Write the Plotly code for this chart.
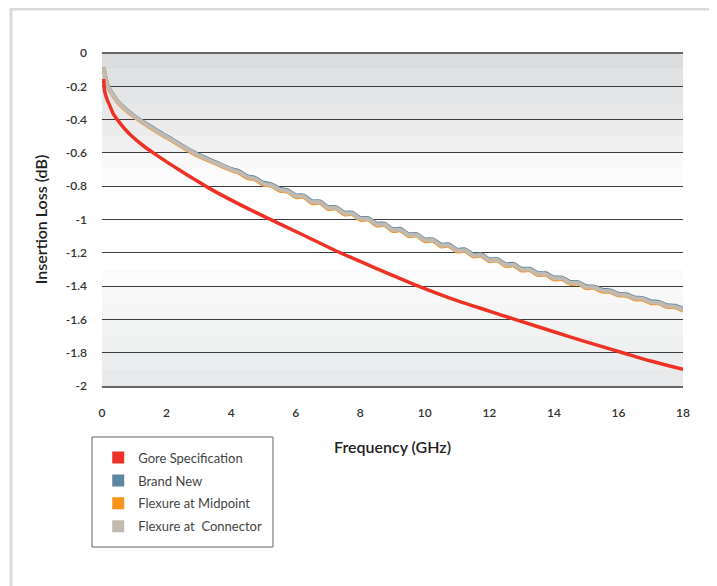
import plotly.graph_objects as go

# ---------------- data ----------------
freq_ghz = [0.05, 0.12, 0.2, 0.35, 0.5, 0.7, 0.95, 1.2, 1.5, 1.9, 2.2, 2.5, 2.8, 3.1, 3.4, 3.7, 4.0,
            4.25, 4.5, 4.75, 5.0, 5.25, 5.5, 5.75, 6.0, 6.25, 6.5, 6.75, 7.0, 7.25, 7.5, 7.75, 8.0,
            8.25, 8.5, 8.75, 9.0, 9.25, 9.5, 9.75, 10.0, 10.25, 10.5, 10.75, 11.0, 11.25, 11.5, 11.75,
            12.0, 12.25, 12.5, 12.75, 13.0, 13.25, 13.5, 13.75, 14.0, 14.25, 14.5, 14.75, 15.0, 15.25,
            15.5, 15.75, 16.0, 16.25, 16.5, 16.75, 17.0, 17.25, 17.5, 17.75, 18.0]

brand_new_db = [-0.084, -0.158, -0.206, -0.252, -0.293, -0.330, -0.371, -0.405, -0.441, -0.489, -0.522,
                -0.558, -0.592, -0.621, -0.646, -0.671, -0.696,
                -0.711, -0.739, -0.751, -0.779, -0.789, -0.815, -0.824, -0.854, -0.856, -0.890,
                -0.891, -0.925, -0.926, -0.958, -0.959, -0.991, -0.992, -1.024, -1.025, -1.057,
                -1.057, -1.088, -1.088, -1.119, -1.119, -1.150, -1.150, -1.181, -1.180, -1.210,
                -1.209, -1.239, -1.238, -1.268, -1.267, -1.295, -1.296, -1.322, -1.323, -1.348,
                -1.349, -1.375, -1.376, -1.401, -1.403, -1.422, -1.426, -1.445, -1.449, -1.468,
                -1.472, -1.491, -1.495, -1.514, -1.518, -1.537]

flex_midpoint_db = [-0.086, -0.162, -0.210, -0.257, -0.298, -0.336, -0.377, -0.411, -0.448, -0.497, -0.530,
                    -0.566, -0.600, -0.629, -0.654, -0.679, -0.704,
                    -0.720, -0.750, -0.760, -0.790, -0.798, -0.826, -0.833, -0.865, -0.865, -0.901,
                    -0.900, -0.936, -0.935, -0.969, -0.968, -1.002, -1.001, -1.035, -1.034, -1.068,
                    -1.066, -1.099, -1.097, -1.130, -1.128, -1.161, -1.159, -1.192, -1.189, -1.221,
                    -1.218, -1.250, -1.247, -1.279, -1.276, -1.306, -1.305, -1.333, -1.332, -1.359,
                    -1.358, -1.386, -1.385, -1.412, -1.412, -1.433, -1.435, -1.456, -1.458, -1.479,
                    -1.481, -1.502, -1.504, -1.525, -1.527, -1.548]

flex_connector_db = [-0.085, -0.160, -0.208, -0.255, -0.296, -0.333, -0.374, -0.408, -0.445, -0.493, -0.526,
                     -0.562, -0.596, -0.625, -0.650, -0.675, -0.700,
                     -0.716, -0.744, -0.756, -0.784, -0.794, -0.820, -0.829, -0.859, -0.861, -0.895,
                     -0.896, -0.930, -0.931, -0.963, -0.964, -0.996, -0.997, -1.029, -1.030, -1.062,
                     -1.062, -1.093, -1.093, -1.124, -1.124, -1.155, -1.155, -1.186, -1.185, -1.215,
                     -1.214, -1.244, -1.243, -1.273, -1.272, -1.300, -1.301, -1.327, -1.328, -1.353,
                     -1.354, -1.380, -1.381, -1.406, -1.408, -1.427, -1.431, -1.450, -1.454, -1.473,
                     -1.477, -1.496, -1.500, -1.519, -1.523, -1.542]

spec_freq_ghz = [0.05, 0.08, 0.15, 0.24, 0.35, 0.5, 0.7, 0.91, 1.3, 1.68, 2.05, 2.4, 2.9, 3.3, 4.2,
                 5.2, 6.2, 7.16, 8.0, 9.0, 9.74, 11.0, 12.0, 12.84, 14.0, 15.0, 16.13, 17.0, 18.0]
gore_spec_db = [-0.156, -0.226, -0.275, -0.316, -0.365, -0.406, -0.455, -0.497, -0.560, -0.612, -0.660,
                -0.703, -0.763, -0.810, -0.903, -0.998, -1.090, -1.180, -1.252, -1.335, -1.395, -1.487,
                -1.550, -1.603, -1.674, -1.735, -1.800, -1.850, -1.900]

series_names = ["Gore Specification", "Brand New", "Flexure at Midpoint", "Flexure at  Connector"]
series_colors = ["#ee3326", "#5b87a2", "#f7941e", "#c2bab1"]

x_tick_vals = [0, 2, 4, 6, 8, 10, 12, 14, 16, 18]
y_tick_vals = [0, -0.2, -0.4, -0.6, -0.8, -1, -1.2, -1.4, -1.6, -1.8, -2]
y_tick_text = ["0", "-0.2", "-0.4", "-0.6", "-0.8", "-1", "-1.2", "-1.4", "-1.6", "-1.8", "-2"]

# background bands (top -> bottom) giving the grey-white-grey gradient
band_edges = [0, -0.1, -0.2, -0.3, -0.4, -0.5, -0.6, -0.7, -0.8, -1.3, -1.4, -1.5, -1.6, -1.7, -1.8, -1.9, -2.0]
band_colors = ["#dcdddf", "#e0e1e3", "#e4e5e6", "#e8e8e9", "#ececed", "#f0f0f1", "#f9f9f9", "#fcfcfc",
               "#ffffff", "#fbfbfb", "#f8f8f8", "#f5f5f6", "#f2f3f3", "#eff0f0", "#ecedee", "#e8e9ea"]

FONT = "Lato, 'Open Sans', sans-serif"

fig = go.Figure()

# measured curves
fig.add_trace(go.Scatter(x=freq_ghz, y=brand_new_db, mode="lines", showlegend=False,
                         line=dict(color=series_colors[1], width=4, shape="spline", smoothing=0.8)))
fig.add_trace(go.Scatter(x=freq_ghz, y=flex_midpoint_db, mode="lines", showlegend=False,
                         line=dict(color=series_colors[2], width=4, shape="spline", smoothing=0.8)))
fig.add_trace(go.Scatter(x=freq_ghz, y=flex_connector_db, mode="lines", showlegend=False,
                         line=dict(color=series_colors[3], width=4, shape="spline", smoothing=0.8)))
# specification
fig.add_trace(go.Scatter(x=spec_freq_ghz, y=gore_spec_db, mode="lines", showlegend=False,
                         line=dict(color=series_colors[0], width=3.5, shape="spline", smoothing=1.0)))

# legend entries (square swatches)
for name, col in zip(series_names, series_colors):
    fig.add_trace(go.Scatter(x=[None], y=[None], mode="markers", name=name, legendgroup=name,
                             marker=dict(symbol="square", size=14, color=col)))

shapes = []
for i, col in enumerate(band_colors):
    shapes.append(dict(type="rect", xref="paper", yref="y", x0=0, x1=1,
                       y0=band_edges[i + 1], y1=band_edges[i],
                       fillcolor=col, line=dict(width=0), layer="below"))
# outer frame
shapes.append(dict(type="rect", xref="paper", yref="paper", x0=-0.1566, x1=1.0534, y0=-0.66, y1=1.1321,
                   line=dict(color="#dadada", width=3), fillcolor="rgba(0,0,0,0)", layer="below"))
# legend box
shapes.append(dict(type="rect", xref="paper", yref="paper", x0=-0.0172, x1=0.2943, y0=-0.4835, y1=-0.1532,
                   line=dict(color="#666666", width=1), fillcolor="white", layer="below"))

fig.update_layout(
    width=709, height=578,
    margin=dict(l=94, r=34, t=45, b=200),
    paper_bgcolor="white",
    plot_bgcolor="rgba(0,0,0,0)",
    font=dict(family=FONT, color="#333333"),
    shapes=shapes,
    showlegend=True,
    legend=dict(x=-0.0065, y=-0.170, xanchor="left", yanchor="top",
                bgcolor="rgba(0,0,0,0)", borderwidth=0,
                font=dict(family=FONT, size=13, color="#444444"),
                tracegroupgap=3, traceorder="grouped", itemsizing="constant"),
    xaxis=dict(range=[0, 18], tickvals=x_tick_vals, showgrid=False, zeroline=False,
               showline=True, linecolor="#666666", linewidth=1.5,
               ticks="", ticklabelstandoff=15,
               tickfont=dict(family=FONT, size=12, color="#333333", weight=600),
               title=dict(text="Frequency (GHz)", standoff=23,
                          font=dict(family=FONT, size=16, color="#222222", weight=600))),
    yaxis=dict(range=[-2, 0], tickvals=y_tick_vals, ticktext=y_tick_text,
               showgrid=True, gridcolor="#3c3c3c", gridwidth=1.2,
               zeroline=True, zerolinecolor="#666666", zerolinewidth=1.5,
               showline=False, ticks="", ticklabelstandoff=14,
               tickfont=dict(family=FONT, size=12, color="#333333", weight=600),
               title=dict(text="Insertion Loss (dB)", standoff=14,
                          font=dict(family=FONT, size=16, color="#222222", weight=600))),
)

fig.write_html("out.html")
